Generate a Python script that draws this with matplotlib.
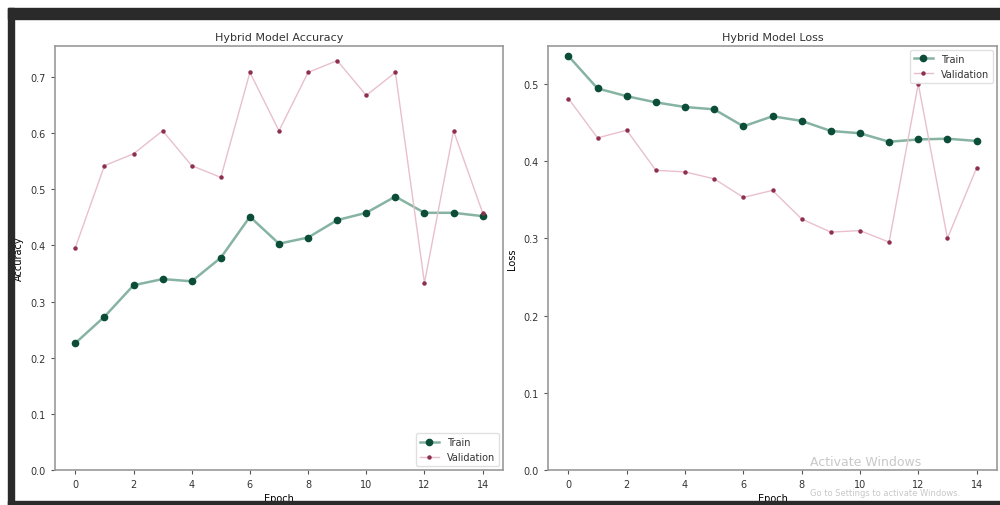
import matplotlib
matplotlib.use('Agg')
import matplotlib.pyplot as plt
from matplotlib.patches import Rectangle
import numpy as np

# values
epochs = list(range(15))

acc_train = [0.226, 0.273, 0.329, 0.340, 0.336, 0.378, 0.451, 0.403, 0.414,
             0.445, 0.458, 0.487, 0.458, 0.458, 0.452]
acc_val = [0.396, 0.542, 0.563, 0.604, 0.542, 0.521, 0.708, 0.604, 0.708,
           0.729, 0.667, 0.708, 0.333, 0.604, 0.458]

loss_train = [0.536, 0.494, 0.484, 0.476, 0.470, 0.467, 0.445, 0.458, 0.452,
              0.439, 0.436, 0.425, 0.428, 0.429, 0.426]
loss_val = [0.481, 0.430, 0.440, 0.388, 0.386, 0.377, 0.353, 0.362, 0.325,
            0.308, 0.310, 0.295, 0.500, 0.300, 0.391]

plt.rcParams['font.family'] = ['DejaVu Sans']
plt.rcParams['text.color'] = '#333333'
plt.rcParams['xtick.color'] = '#555555'
plt.rcParams['ytick.color'] = '#555555'
plt.rcParams['xtick.labelcolor'] = '#333333'
plt.rcParams['ytick.labelcolor'] = '#333333'

fig = plt.figure(figsize=(10, 5.06), dpi=100)

# screenshot frame
dark = '#2a2a2a'
fig.patches.append(Rectangle((0.008, 1 - 20 / 506), 0.992, 11 / 506,
                             transform=fig.transFigure, color=dark, zorder=0))
fig.patches.append(Rectangle((0.008, 0), 0.006, 1 - 9 / 506,
                             transform=fig.transFigure, color=dark, zorder=0))
fig.patches.append(Rectangle((0.008, 0), 0.992, 4 / 506,
                             transform=fig.transFigure, color=dark, zorder=0))

ax1 = fig.add_axes([0.055, 1 - 471 / 506, 0.448, 424 / 506])
ax2 = fig.add_axes([0.548, 1 - 471 / 506, 0.449, 424 / 506])

train_line = '#86b3a2'
train_mark = '#0b4d38'
val_line = '#e8c0cc'
val_mark = '#8e2f52'


def draw(ax, train, val, title, ylabel, ymax, loc):
    ax.plot(epochs, train, color=train_line, lw=1.8, marker='o', ms=4.5,
            mfc=train_mark, mec=train_mark, label='Train')
    ax.plot(epochs, val, color=val_line, lw=1.0, marker='o', ms=2.2,
            mfc=val_mark, mec=val_mark, label='Validation')
    ax.set_ylim(0, ymax)
    ax.set_xticks(range(0, 15, 2))
    ax.set_title(title, fontsize=8, pad=4)
    ax.set_xlabel('Epoch', fontsize=7, labelpad=3)
    ax.set_ylabel(ylabel, fontsize=7, labelpad=5)
    ax.tick_params(labelsize=7, length=3, width=0.8)
    for s in ax.spines.values():
        s.set_color('#999999')
        s.set_linewidth(1.2)
    leg = ax.legend(loc=loc, fontsize=7, framealpha=0.9, borderaxespad=0.4)
    leg.get_frame().set_edgecolor('#dddddd')


draw(ax1, acc_train, acc_val, 'Hybrid Model Accuracy', 'Accuracy', 0.755, 'lower right')
ax1.set_yticks(np.arange(0, 0.71, 0.1))
draw(ax2, loss_train, loss_val, 'Hybrid Model Loss', 'Loss', 0.549, 'upper right')
ax2.set_yticks(np.arange(0, 0.51, 0.1))

# windows watermark
fig.text(0.81, 1 - 466 / 506, 'Activate Windows', fontsize=9, color='#c8c8c8')
fig.text(0.81, 1 - 496 / 506, 'Go to Settings to activate Windows.', fontsize=6,
         color='#c8c8c8')

fig.savefig('out.png', dpi=100)
